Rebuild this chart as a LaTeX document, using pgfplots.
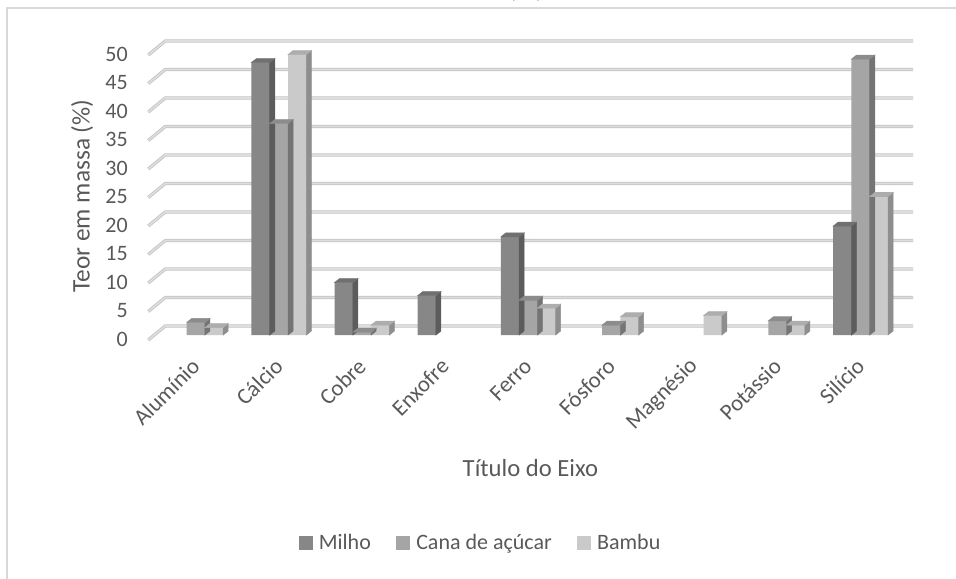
\documentclass[border=0pt]{standalone}
\usepackage{fontspec}
\setmainfont{Carlito}
\usepackage{pgfplots}
\pgfplotsset{compat=1.18}

% greys of the chart
\definecolor{txt}{HTML}{595959}
\definecolor{frame}{HTML}{D9D9D9}
\definecolor{gridout}{HTML}{C2C2C2}
\definecolor{gridin}{HTML}{DEDEDE}
\definecolor{milhoF}{HTML}{878787}
\definecolor{milhoS}{HTML}{5C5C5C}
\definecolor{milhoT}{HTML}{707070}
\definecolor{canaF}{HTML}{A5A5A5}
\definecolor{canaS}{HTML}{747474}
\definecolor{canaT}{HTML}{8C8C8C}
\definecolor{bambuF}{HTML}{CACACA}
\definecolor{bambuS}{HTML}{8E8E8E}
\definecolor{bambuT}{HTML}{ADADAD}

% depth of the bars (right, up)
\def\dxb{3.75pt}
\def\dyb{3pt}

\tikzset{gridline/.style={draw=gridout, line width=0.6pt, double=gridin, double distance=1.2pt}}

\pgfplotsset{
  % front face of a bar series
  front/.style n args={2}{%
    ybar, bar width=0.22, bar shift=#1, fill=#2, draw=none,
    legend image code/.code={\fill[fill=#2,draw=none] (0pt,-5.25pt) rectangle (10.5pt,5.25pt);},
  },
  % side and top faces, drawn at every data point of the series
  % #1 left edge, #2 right edge (relative to the category), #3 side, #4 top
  faces/.style n args={4}{%
    only marks, scatter, forget plot,
    mark=*, mark size=0pt, mark options={draw=none,fill=none},
    visualization depends on={y \as \barval},
    scatter/@pre marker code/.code={%
      \fill[#3] (#2,0pt) -- ++(\dxb,\dyb) -- ++(axis direction cs:0,-\barval)
                -- ++(-\dxb,-\dyb) -- cycle;
      \fill[#4] (#1,0pt) -- (#2,0pt) -- ++(\dxb,\dyb) -- ++(#1-#2,0pt) -- cycle;
    },
    scatter/@post marker code/.code={},
  },
}

\begin{document}
\begin{tikzpicture}
% chart area border
\draw[frame, line width=1.1pt] (5.25pt,-440pt) -- (5.25pt,-6pt) -- (730pt,-6pt);
% chart title, mostly above the visible area
\node[anchor=base, text=txt, font=\fontsize{25.5pt}{28pt}\selectfont] at (394.5pt,2.6pt) {(b)};

\begin{axis}[
  set layers, clip=false,
  anchor=south west, at={(115.69pt,-251.25pt)},
  x=62.325pt, y=4.275pt,
  xmin=-0.5, xmax=8.5, ymin=0, ymax=50,
  enlargelimits=false,
  axis line style={draw=none},
  major tick length=0pt,
  tick style={draw=none},
  ytick={0,5,...,50},
  xtick={0,...,8},
  xticklabels={Alumínio,Cálcio,Cobre,Enxofre,Ferro,Fósforo,Magnésio,Potássio,Silício},
  /pgf/number format/assume math mode=true,
  ticklabel style={text=txt, font=\fontsize{16.5pt}{19pt}\selectfont},
  yticklabel style={anchor=east, inner sep=0pt, xshift=-19.7pt, yshift=-3pt},
  xticklabel style={rotate=45, anchor=east, inner sep=0pt, font=\fontsize{17pt}{19pt}\selectfont},
  xticklabel shift=20.5pt,
  every axis x label/.style={at={(axis description cs:0.503,-0.467)}, anchor=center,
    text=txt, font=\fontsize{18.5pt}{21pt}\selectfont},
  every axis y label/.style={at={(axis description cs:-0.0966,0.488)}, anchor=center, rotate=90,
    text=txt, font=\fontsize{19pt}{21pt}\selectfont},
  xlabel={Título do Eixo},
  ylabel={Teor em massa (\%)},
  legend columns=3,
  legend style={at={(axis description cs:0.435,-0.730)}, anchor=center, draw=none, fill=none,
    font=\fontsize{16.5pt}{19pt}\selectfont, text=txt,
    nodes={inner sep=0pt},
    /tikz/every odd column/.style={column sep=4.5pt},
    /tikz/every even column/.style={column sep=19pt}},
]

% back wall grid with the diagonal floor edge
\begin{pgfonlayer}{axis background}
\pgfplotsinvokeforeach{0,5,10,15,20,25,30,35,40,45,50}{
  \draw[gridline] ([shift={(-4.5pt,-3.75pt)}]axis cs:-0.5,#1)
    -- ([shift={(8.25pt,6.75pt)}]axis cs:-0.5,#1)
    -- ([shift={(8.25pt,6.75pt)}]axis cs:8.5,#1);
}
\end{pgfonlayer}

% Milho
\addplot[front={-0.22}{milhoF}] coordinates {(1,47.8) (2,9.2) (3,6.9) (4,17.2) (8,19.1)};
\addplot[faces={-20.565pt}{-6.855pt}{milhoS}{milhoT}] coordinates {(1,47.8) (2,9.2) (3,6.9) (4,17.2) (8,19.1)};
% Cana de açúcar
\addplot[front={0}{canaF}] coordinates {(0,2.2) (1,37.1) (2,0.5) (4,6.1) (5,1.75) (7,2.5) (8,48.4)};
\addplot[faces={-6.855pt}{6.855pt}{canaS}{canaT}] coordinates {(0,2.2) (1,37.1) (2,0.5) (4,6.1) (5,1.75) (7,2.5) (8,48.4)};
% Bambu
\addplot[front={0.22}{bambuF}] coordinates {(0,1.3) (1,49.2) (2,1.75) (4,4.7) (5,3.2) (6,3.4) (7,1.75) (8,24.3)};
\addplot[faces={6.855pt}{20.565pt}{bambuS}{bambuT}] coordinates {(0,1.3) (1,49.2) (2,1.75) (4,4.7) (5,3.2) (6,3.4) (7,1.75) (8,24.3)};

\legend{Milho, Cana de açúcar, Bambu}
\end{axis}
\pgfresetboundingbox
\useasboundingbox (0pt,0pt) rectangle (717pt,-433.5pt);
\end{tikzpicture}
\end{document}
